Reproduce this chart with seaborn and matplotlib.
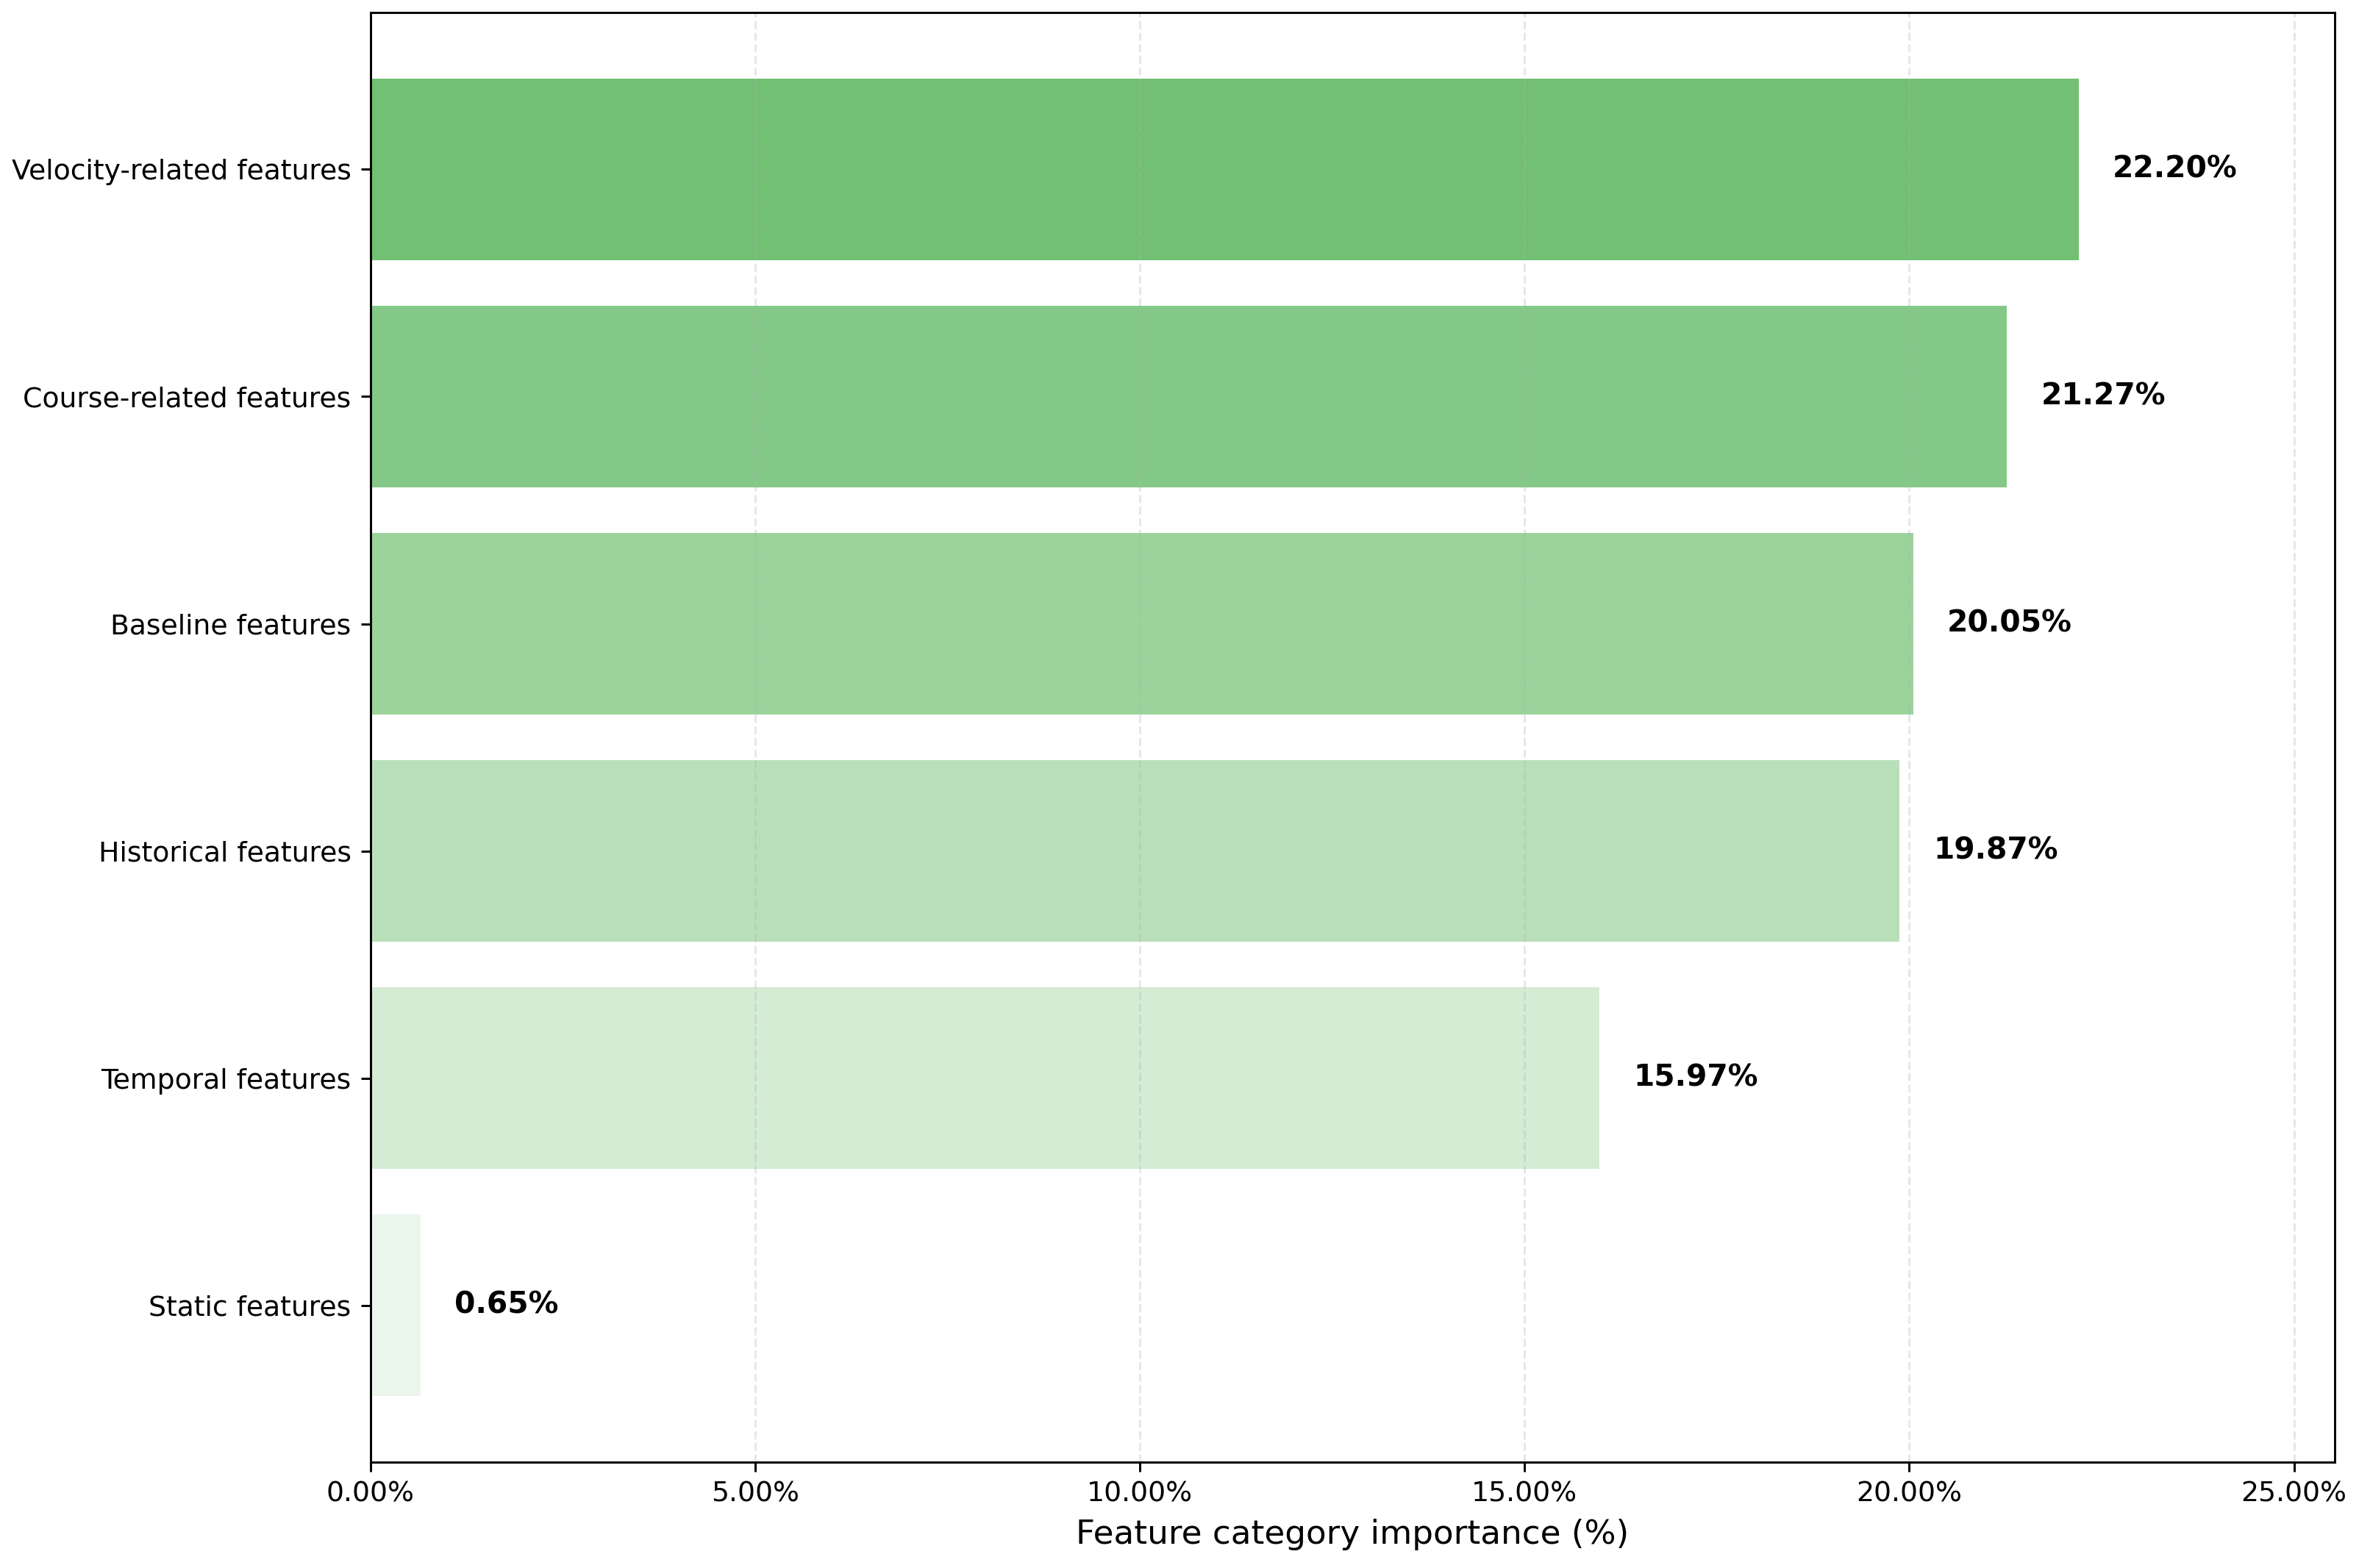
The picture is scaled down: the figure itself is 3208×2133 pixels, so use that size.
import matplotlib
matplotlib.use("Agg")
import matplotlib.pyplot as plt
from matplotlib.ticker import PercentFormatter
import seaborn as sns

# data (top to bottom)
categories = ["Velocity-related features", "Course-related features", "Baseline features",
              "Historical features", "Temporal features", "Static features"]
importance = [22.20, 21.27, 20.05, 19.87, 15.97, 0.65]
bar_colors = ["#72c073", "#84c888", "#9bd39a", "#b9dfb9", "#d4ebd4", "#ebf6ec"]

fig, ax = plt.subplots(figsize=(3208 / 267, 2133 / 267), dpi=267)

sns.barplot(x=importance, y=categories, hue=categories, palette=bar_colors,
            orient="h", width=0.8, saturation=1, legend=False, ax=ax)

# value labels
offset = max(importance) * 0.02
for i, v in enumerate(importance):
    ax.text(v + offset, i, f"{v:.2f}%", va="center", ha="left",
            fontsize=11, fontweight="bold")

n = len(categories)
ax.set_ylim(n - 1 + 0.4 + 0.29, -0.69)
ax.set_xlim(0, max(importance) * 1.15)
ax.xaxis.set_major_formatter(PercentFormatter(decimals=2))
ax.set_xlabel("Feature category importance (%)", fontsize=12.2)
ax.set_ylabel("")
ax.tick_params(labelsize=10.2)
ax.grid(axis="x", linestyle="--", alpha=0.3)
for s in ax.spines.values():
    s.set_visible(True)

plt.subplots_adjust(left=0.157, right=0.9897, top=0.992, bottom=0.0675)
plt.savefig("out.png", dpi=267)
plt.close()
